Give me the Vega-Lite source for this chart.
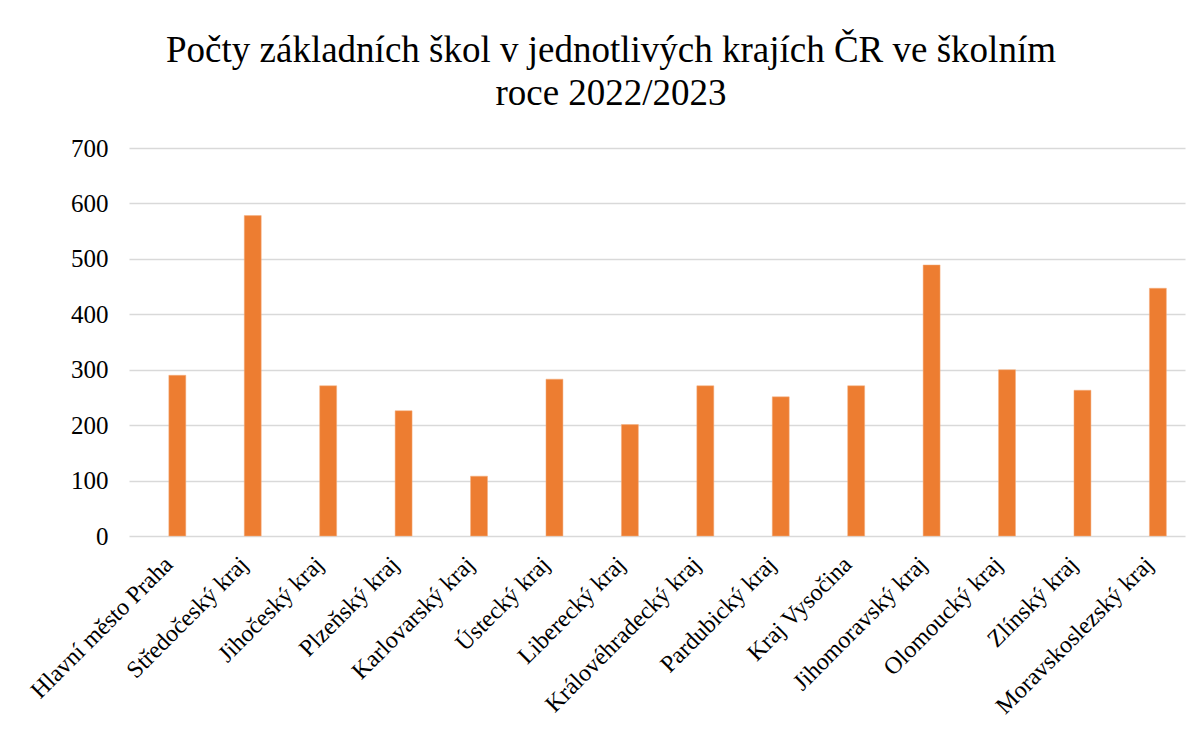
{
  "$schema": "https://vega.github.io/schema/vega-lite/v6.json",
  "autosize": "none",
  "width": 1056,
  "height": 388,
  "padding": {"left": 129, "top": 148, "right": 17, "bottom": 193},
  "background": "white",
  "title": {
    "text": ["Počty základních škol v jednotlivých krajích ČR ve školním", "roce 2022/2023"],
    "font": "Liberation Serif",
    "fontSize": 37,
    "fontWeight": "normal",
    "color": "#000000",
    "lineHeight": 43.5,
    "anchor": "middle",
    "frame": "group",
    "dx": -46,
    "offset": 23
  },
  "data": {
    "values": [
      {"kraj": "Hlavní město Praha", "pocet": 290},
      {"kraj": "Středočeský kraj", "pocet": 578},
      {"kraj": "Jihočeský kraj", "pocet": 271},
      {"kraj": "Plzeňský kraj", "pocet": 226},
      {"kraj": "Karlovarský kraj", "pocet": 108},
      {"kraj": "Ústecký kraj", "pocet": 283},
      {"kraj": "Liberecký kraj", "pocet": 201},
      {"kraj": "Královéhradecký kraj", "pocet": 271},
      {"kraj": "Pardubický kraj", "pocet": 251},
      {"kraj": "Kraj Vysočina", "pocet": 271},
      {"kraj": "Jihomoravský kraj", "pocet": 489},
      {"kraj": "Olomoucký kraj", "pocet": 300},
      {"kraj": "Zlínský kraj", "pocet": 263},
      {"kraj": "Moravskoslezský kraj", "pocet": 447}
    ]
  },
  "mark": {"type": "bar", "color": "#ED7D31", "stroke": "#F4B183", "strokeWidth": 0.5, "xOffset": 10.6},
  "encoding": {
    "x": {
      "field": "kraj",
      "type": "nominal",
      "sort": null,
      "scale": {"paddingInner": 0.775, "paddingOuter": 0.3875},
      "axis": {
        "title": null,
        "labelAngle": -45,
        "labelFont": "Liberation Serif",
        "labelFontSize": 24,
        "labelColor": "#000000",
        "labelPadding": 16,
        "labelLimit": 0,
        "labelOverlap": false,
        "labelOffset": -6,
        "ticks": false,
        "domain": false,
        "grid": false
      }
    },
    "y": {
      "field": "pocet",
      "type": "quantitative",
      "scale": {"domain": [0, 700], "nice": false},
      "axis": {
        "title": null,
        "values": [0, 100, 200, 300, 400, 500, 600, 700],
        "labelFont": "Liberation Serif",
        "labelFontSize": 25,
        "labelColor": "#000000",
        "labelPadding": 21,
        "ticks": false,
        "domain": false,
        "grid": true,
        "gridColor": "#D9D9D9",
        "gridWidth": 1.5
      }
    }
  },
  "config": {
    "view": {"stroke": null}
  }
}
